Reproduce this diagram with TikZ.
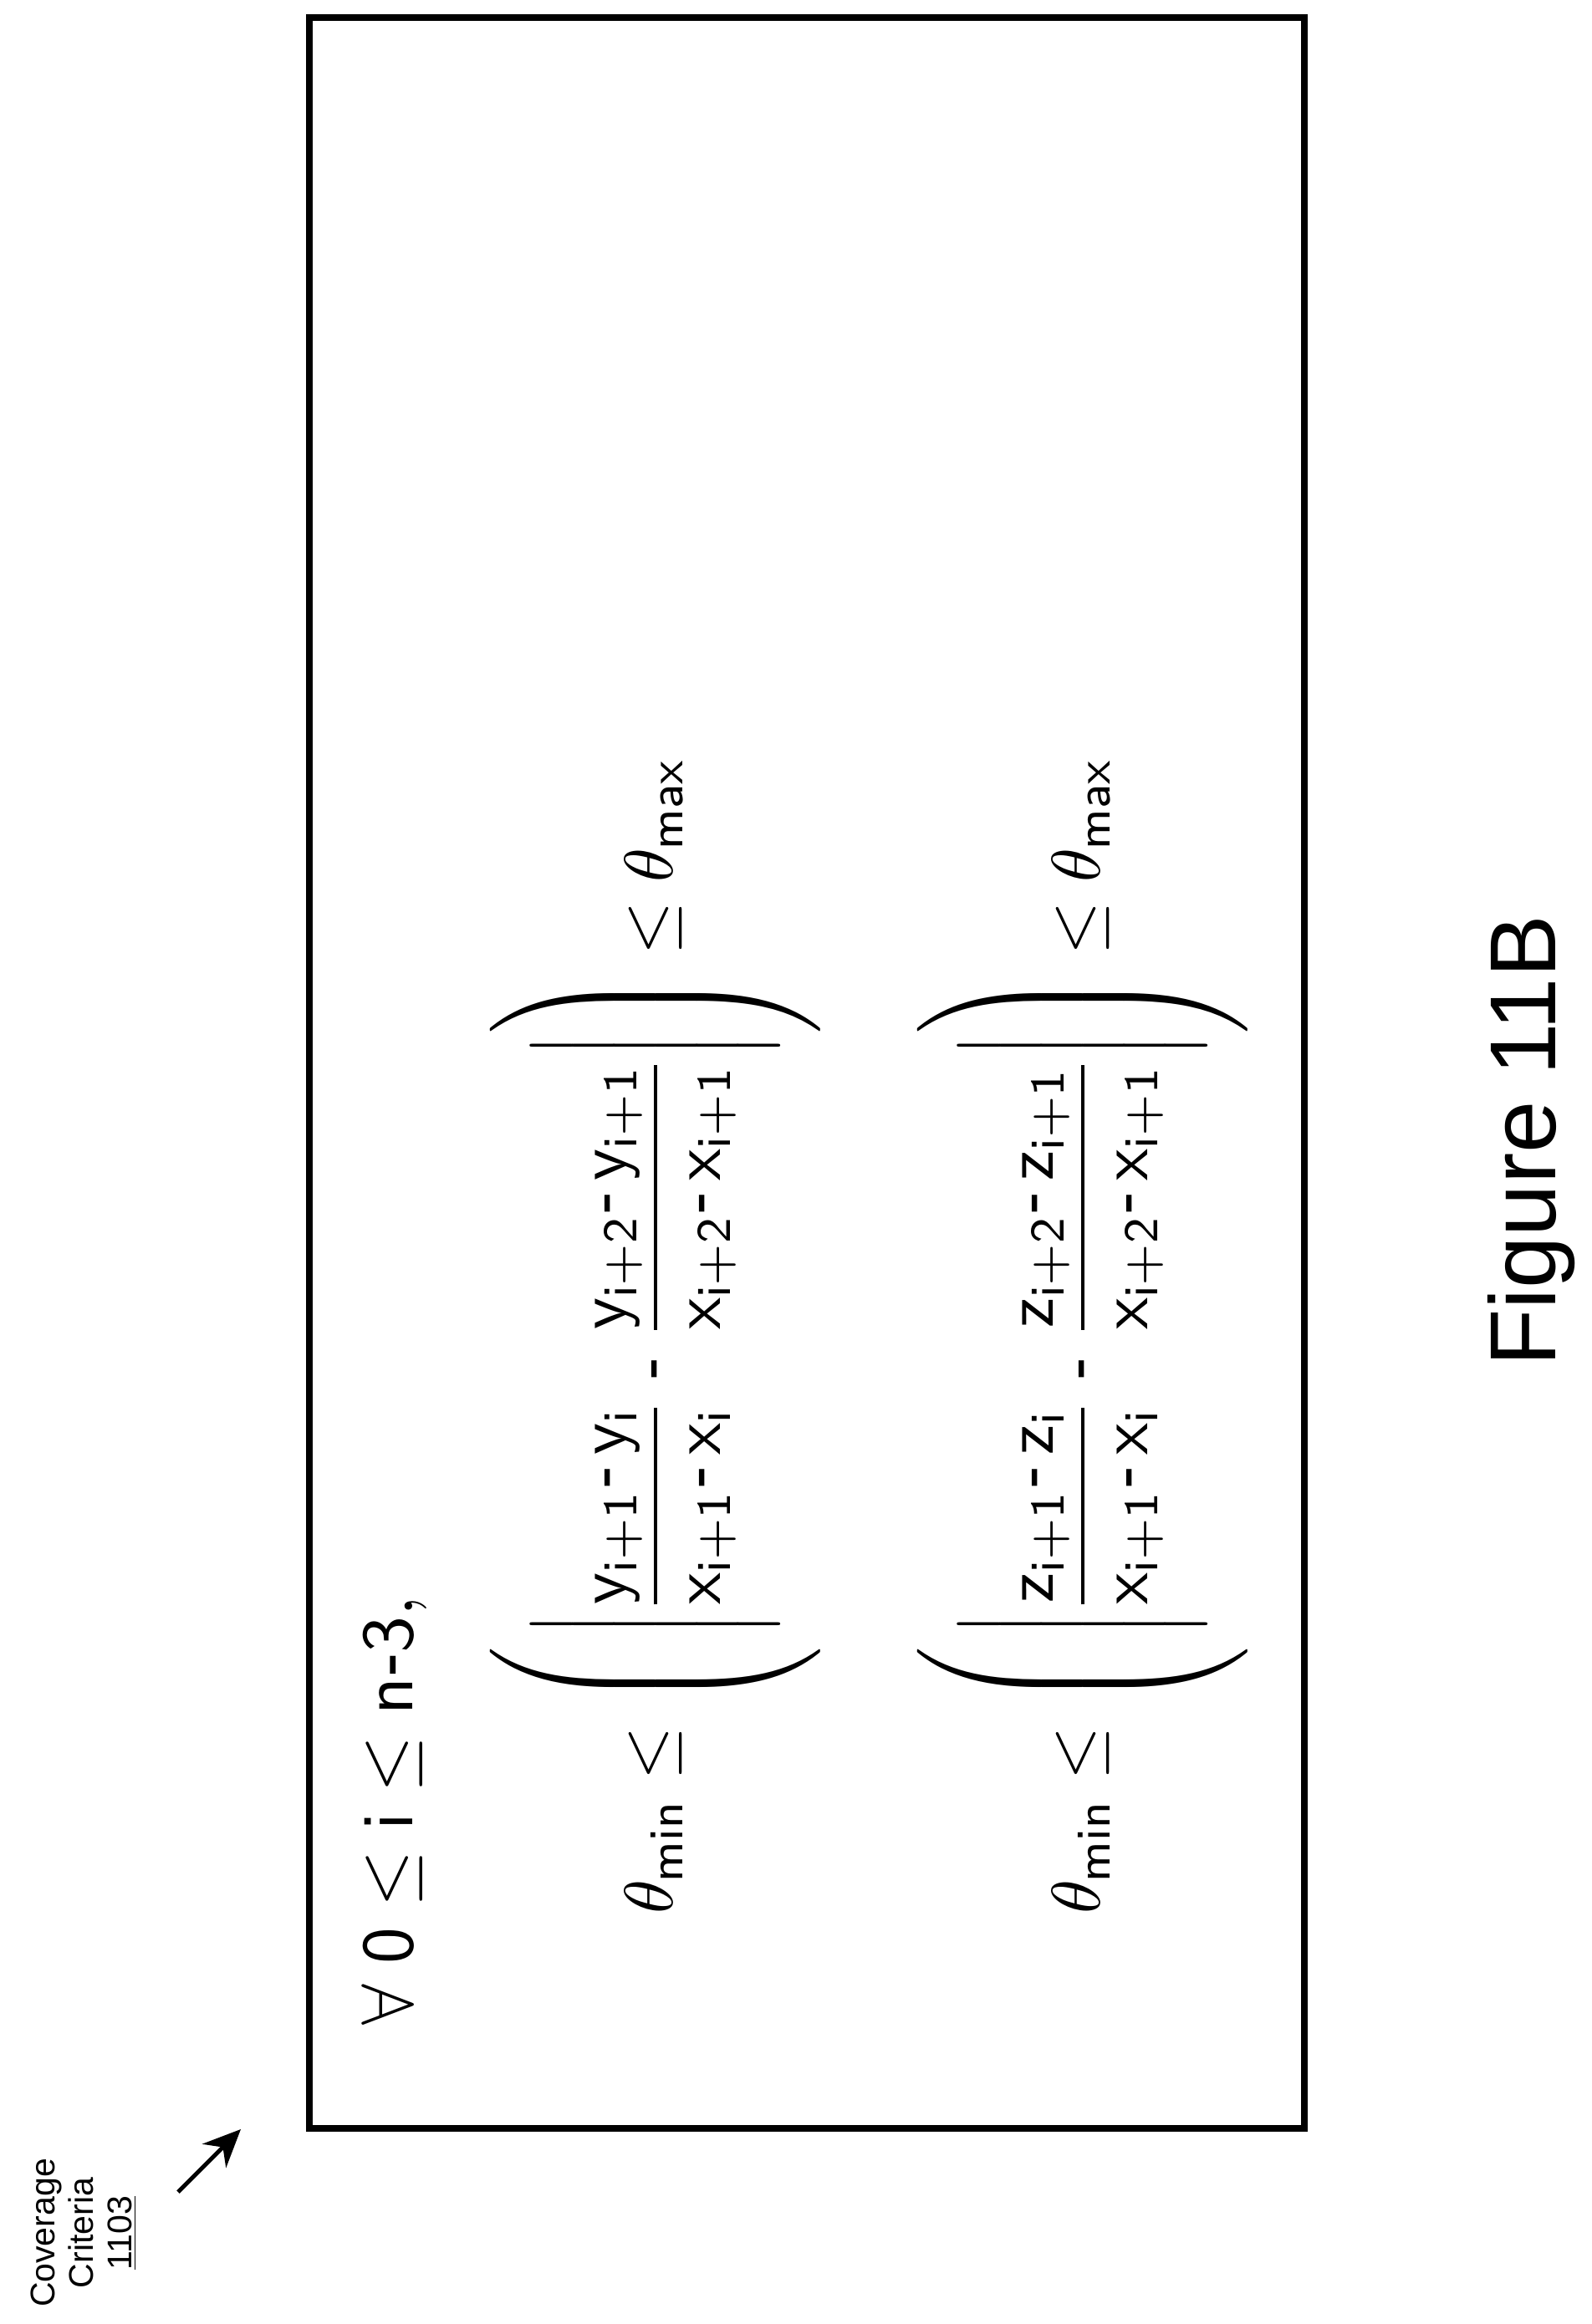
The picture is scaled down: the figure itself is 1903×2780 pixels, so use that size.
\documentclass[tikz,border=0pt]{standalone}
\usetikzlibrary{arrows.meta}
\usepackage{fontspec}
\usepackage{amsmath,graphicx}
\setmainfont{Liberation Sans}
\newcommand{\myexpr}[1]{\theta_{\mathsf{min}}\le\left(\rule[-2.1em]{0pt}{4.2em}\left|\rule[-1.45em]{0pt}{2.9em}\dfrac{\mathsf{#1_{i+1}\text{-}\,#1_i}}{\mathsf{x_{i+1}\text{-}\,x_i}}\;\text{-}\;\dfrac{\mathsf{#1_{i+2}\text{-}\,#1_{i+1}}}{\mathsf{x_{i+2}\text{-}\,x_{i+1}}}\right|\right)\le\theta_{\mathsf{max}}}
\begin{document}
\begin{tikzpicture}[x=1pt,y=-1pt,
  lbl/.style={inner sep=0pt,rotate=90,font=\fontsize{41}{46}\selectfont,align=center},
  eqn/.style={inner sep=0pt,rotate=90,anchor=west}]
\useasboundingbox (0,0) rectangle (1903,2780);
\draw[line width=8pt] (370,21) rectangle (1560,2546);
\node[eqn] (r1) at (472,2423) {\resizebox{513pt}{!}{$\forall\ \mathsf{0}\le \mathsf{i}\le \mathsf{n\text{-}3},$}};
\node[eqn] (r2) at (784,2290) {\resizebox{1383pt}{!}{$\myexpr{y}$}};
\node[eqn] (r3) at (1295,2290) {\resizebox{1383pt}{!}{$\myexpr{z}$}};
\node[inner sep=0pt,rotate=90,font=\fontsize{112}{120}\selectfont] (fig) at (1832,1365) {Figure 11B};
\node[lbl] (cc) at (100,2671) {Coverage\\Criteria\\\underline{1103}};
\coordinate (a0) at (213,2622);
\coordinate (a1) at (288,2547);
\draw[line width=5pt,-{Stealth[length=45pt,width=40pt]}] (a0) -- (a1);
\end{tikzpicture}
\end{document}
